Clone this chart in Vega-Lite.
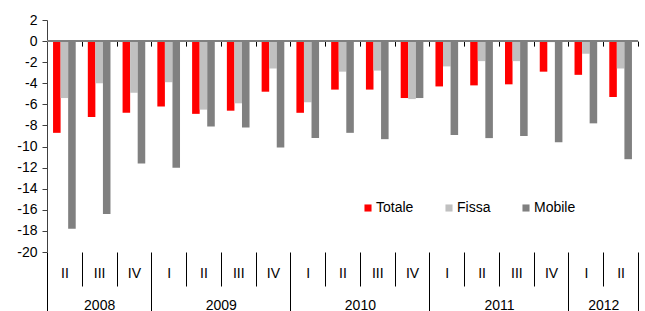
{
  "$schema": "https://vega.github.io/schema/vega-lite/v6.json",
  "autosize": {"type": "none"},
  "width": 591,
  "height": 232,
  "padding": {"left": 47, "top": 20, "right": 7, "bottom": 59},
  "background": "white",
  "config": {"view": {"stroke": null}, "font": "Liberation Sans"},
  "resolve": {"scale": {"x": "independent"}, "axis": {"x": "independent"}},
  "encoding": {
    "y": {
      "type": "quantitative",
      "scale": {"domain": [-20, 2], "nice": false, "zero": false},
      "axis": {
        "title": null,
        "values": [-20, -18, -16, -14, -12, -10, -8, -6, -4, -2, 0, 2],
        "labelExpr": "datum.value < 0 ? '-' + abs(datum.value) : '' + datum.value",
        "grid": false,
        "domainColor": "#404040",
        "tickColor": "#404040",
        "tickSize": 5,
        "labelPadding": 5,
        "labelFontSize": 14,
        "labelColor": "#000"
      }
    }
  },
  "layer": [
    {
      "data": {
        "values": [
          {"period": "2008 II", "series": "Totale", "value": -8.7},
          {"period": "2008 II", "series": "Fissa", "value": -5.4},
          {"period": "2008 II", "series": "Mobile", "value": -17.8},
          {"period": "2008 III", "series": "Totale", "value": -7.2},
          {"period": "2008 III", "series": "Fissa", "value": -4.0},
          {"period": "2008 III", "series": "Mobile", "value": -16.4},
          {"period": "2008 IV", "series": "Totale", "value": -6.8},
          {"period": "2008 IV", "series": "Fissa", "value": -4.9},
          {"period": "2008 IV", "series": "Mobile", "value": -11.6},
          {"period": "2009 I", "series": "Totale", "value": -6.2},
          {"period": "2009 I", "series": "Fissa", "value": -3.9},
          {"period": "2009 I", "series": "Mobile", "value": -12.0},
          {"period": "2009 II", "series": "Totale", "value": -6.9},
          {"period": "2009 II", "series": "Fissa", "value": -6.5},
          {"period": "2009 II", "series": "Mobile", "value": -8.1},
          {"period": "2009 III", "series": "Totale", "value": -6.6},
          {"period": "2009 III", "series": "Fissa", "value": -5.9},
          {"period": "2009 III", "series": "Mobile", "value": -8.2},
          {"period": "2009 IV", "series": "Totale", "value": -4.8},
          {"period": "2009 IV", "series": "Fissa", "value": -2.6},
          {"period": "2009 IV", "series": "Mobile", "value": -10.1},
          {"period": "2010 I", "series": "Totale", "value": -6.8},
          {"period": "2010 I", "series": "Fissa", "value": -5.8},
          {"period": "2010 I", "series": "Mobile", "value": -9.2},
          {"period": "2010 II", "series": "Totale", "value": -4.6},
          {"period": "2010 II", "series": "Fissa", "value": -2.9},
          {"period": "2010 II", "series": "Mobile", "value": -8.7},
          {"period": "2010 III", "series": "Totale", "value": -4.6},
          {"period": "2010 III", "series": "Fissa", "value": -2.8},
          {"period": "2010 III", "series": "Mobile", "value": -9.3},
          {"period": "2010 IV", "series": "Totale", "value": -5.4},
          {"period": "2010 IV", "series": "Fissa", "value": -5.5},
          {"period": "2010 IV", "series": "Mobile", "value": -5.4},
          {"period": "2011 I", "series": "Totale", "value": -4.3},
          {"period": "2011 I", "series": "Fissa", "value": -2.4},
          {"period": "2011 I", "series": "Mobile", "value": -8.9},
          {"period": "2011 II", "series": "Totale", "value": -4.2},
          {"period": "2011 II", "series": "Fissa", "value": -1.9},
          {"period": "2011 II", "series": "Mobile", "value": -9.2},
          {"period": "2011 III", "series": "Totale", "value": -4.1},
          {"period": "2011 III", "series": "Fissa", "value": -1.9},
          {"period": "2011 III", "series": "Mobile", "value": -9.0},
          {"period": "2011 IV", "series": "Totale", "value": -2.9},
          {"period": "2011 IV", "series": "Fissa", "value": -0.1},
          {"period": "2011 IV", "series": "Mobile", "value": -9.6},
          {"period": "2012 I", "series": "Totale", "value": -3.2},
          {"period": "2012 I", "series": "Fissa", "value": -1.2},
          {"period": "2012 I", "series": "Mobile", "value": -7.8},
          {"period": "2012 II", "series": "Totale", "value": -5.3},
          {"period": "2012 II", "series": "Fissa", "value": -2.6},
          {"period": "2012 II", "series": "Mobile", "value": -11.2}
        ]
      },
      "mark": {"type": "bar"},
      "encoding": {
        "x": {
          "field": "period",
          "type": "nominal",
          "sort": null,
          "scale": {"paddingInner": 0, "paddingOuter": 0},
          "axis": {
            "title": null,
            "orient": "bottom",
            "domain": false,
            "tickBand": "extent",
            "tickSize": 60,
            "tickColor": "#000",
            "tickWidth": 1,
            "tickDash": {
              "condition": {"test": "!datum.value || datum.index == 1 || split(datum.value, ' ')[1] == 'IV'", "value": [100, 0]},
              "value": [34, 100]
            },
            "labelExpr": "datum.value ? split(datum.value, ' ')[1] : ''",
            "labelAngle": 0,
            "labelPadding": -46,
            "labelFontSize": 14,
            "labelColor": "#000",
            "grid": true,
            "gridColor": "#000",
            "gridWidth": 1,
            "gridDash": [0, 21.1, 5, 1000]
          }
        },
        "xOffset": {
          "field": "series",
          "type": "nominal",
          "sort": ["Totale", "Fissa", "Mobile"],
          "scale": {"paddingInner": 0, "paddingOuter": 0.8}
        },
        "y": {"field": "value", "type": "quantitative"},
        "color": {
          "field": "series",
          "type": "nominal",
          "sort": ["Totale", "Fissa", "Mobile"],
          "scale": {"domain": ["Totale", "Fissa", "Mobile"], "range": ["#FF0000", "#C0C0C0", "#808080"]},
          "legend": {
            "title": null,
            "orient": "none",
            "legendX": 314,
            "legendY": 181,
            "direction": "horizontal",
            "columns": 3,
            "symbolType": "square",
            "symbolSize": 50,
            "symbolStrokeWidth": 0,
            "labelFontSize": 14,
            "labelColor": "#000",
            "labelOffset": 1,
            "columnPadding": 28,
            "padding": 0
          }
        }
      }
    },
    {
      "data": {"values": [{}]},
      "mark": {"type": "rule", "color": "#808080", "strokeWidth": 2},
      "encoding": {
        "x": {
          "datum": 0,
          "type": "quantitative",
          "scale": {"domain": [0, 17], "nice": false, "zero": false},
          "axis": {
            "title": null,
            "orient": "bottom",
            "values": [1.5, 5, 9, 13, 16],
            "labelExpr": "datum.value == 1.5 ? '2008' : datum.value == 5 ? '2009' : datum.value == 9 ? '2010' : datum.value == 13 ? '2011' : '2012'",
            "ticks": false,
            "tickSize": 0,
            "domain": false,
            "grid": false,
            "labelPadding": 46,
            "labelFontSize": 14,
            "labelColor": "#000",
            "labelOverlap": false,
            "labelFlush": false,
            "labelBound": false
          }
        },
        "x2": {"datum": 17},
        "y": {"datum": 0, "type": "quantitative"}
      }
    }
  ]
}
